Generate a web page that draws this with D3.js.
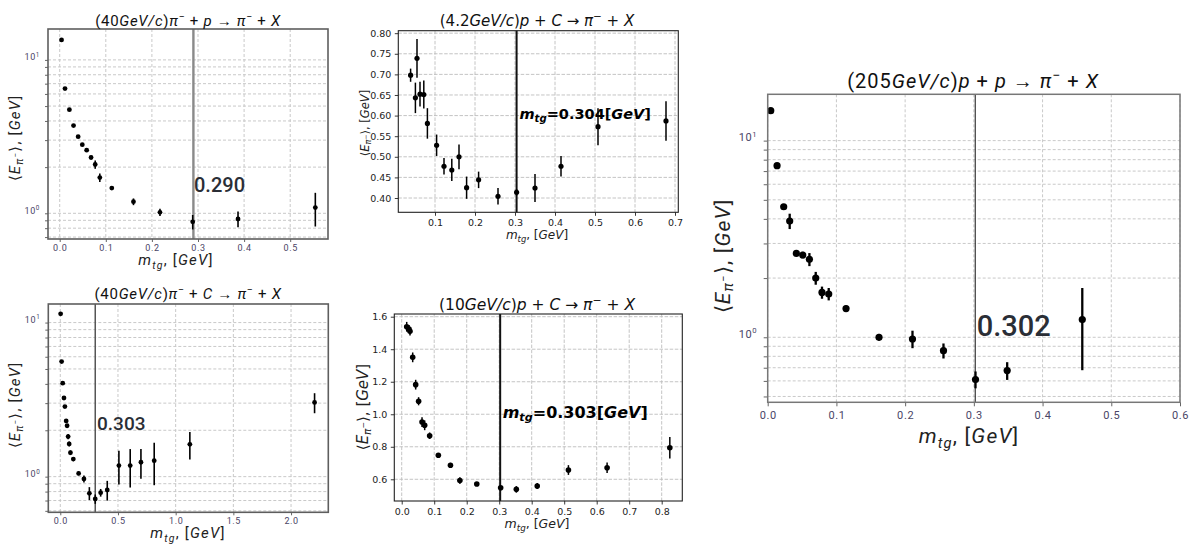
<!DOCTYPE html>
<html>
<head>
<meta charset="utf-8">
<script src="https://cdn.jsdelivr.net/npm/d3@7"></script>
<style>
  body { margin: 0; background: #fff; }
  svg { display: block; }
  text { white-space: pre; }
</style>
</head>
<body>
<svg id="fig" width="1194" height="544"></svg>
<script>
// ---- (40 GeV/c) π⁻ + p → π⁻ + X ----
const mtgPiP40 = [0.004, 0.0115, 0.021, 0.030, 0.040, 0.049, 0.0585, 0.068, 0.077, 0.087, 0.113, 0.160, 0.2175, 0.2885, 0.3868, 0.5545];
const ePiP40   = [13.5, 6.5, 4.74, 3.73, 3.16, 2.80, 2.58, 2.31, 2.08, 1.71, 1.46, 1.19, 1.015, 0.88, 0.918, 1.09];
const errPiP40 = [0.15, 0.08, 0.06, 0.05, 0.05, 0.05, 0.06, 0.06, 0.13, 0.11, 0.04, 0.06, 0.056, 0.095, 0.108, 0.27];

// ---- (4.2 GeV/c) p + C → π⁻ + X ----
const mtgPC42 = [0.039, 0.051, 0.055, 0.0625, 0.072, 0.081, 0.104, 0.1225, 0.142, 0.160, 0.179, 0.209, 0.2575, 0.304, 0.350, 0.415, 0.5075, 0.6775];
const ePC42   = [0.698, 0.643, 0.739, 0.652, 0.651, 0.581, 0.528, 0.477, 0.468, 0.500, 0.425, 0.444, 0.404, 0.414, 0.424, 0.477, 0.573, 0.587];
const errPC42 = [0.016, 0.037, 0.047, 0.030, 0.034, 0.037, 0.026, 0.020, 0.027, 0.030, 0.027, 0.020, 0.020, 0.008, 0.034, 0.025, 0.045, 0.048];

// ---- (40 GeV/c) π⁻ + C → π⁻ + X ----
const mtgPiC40 = [0.003, 0.0115, 0.021, 0.032, 0.040, 0.051, 0.059, 0.068, 0.077, 0.088, 0.113, 0.159, 0.205, 0.252, 0.303, 0.350, 0.407, 0.508, 0.606, 0.699, 0.814, 1.123, 2.204];
const ePiC40   = [11.4, 5.58, 4.04, 3.24, 2.85, 2.30, 2.14, 1.82, 1.63, 1.43, 1.30, 1.05, 0.966, 0.78, 0.716, 0.787, 0.819, 1.18, 1.18, 1.24, 1.27, 1.62, 3.03];
const errPiC40 = [0.15, 0.08, 0.06, 0.05, 0.05, 0.06, 0.06, 0.07, 0.06, 0.05, 0.04, 0.03, 0.05, 0.075, 0.05, 0.045, 0.12, 0.29, 0.33, 0.27, 0.39, 0.33, 0.45];

// ---- (10 GeV/c) p + C → π⁻ + X ----
const mtgPC10 = [0.0154, 0.0225, 0.0255, 0.0338, 0.043, 0.052, 0.0625, 0.0707, 0.086, 0.1127, 0.150, 0.179, 0.231, 0.3045, 0.3527, 0.417, 0.513, 0.632, 0.825];
const ePC10   = [1.538, 1.524, 1.510, 1.350, 1.182, 1.080, 0.952, 0.932, 0.868, 0.748, 0.686, 0.592, 0.571, 0.548, 0.538, 0.559, 0.657, 0.671, 0.794];
const errPC10 = [0.030, 0.025, 0.025, 0.030, 0.030, 0.025, 0.030, 0.030, 0.020, 0.012, 0.015, 0.020, 0.010, 0.010, 0.020, 0.018, 0.030, 0.033, 0.066];

// ---- (205 GeV/c) p + p → π⁻ + X ----
const mtgPP205 = [0.0044, 0.0136, 0.0233, 0.032, 0.0417, 0.051, 0.0607, 0.0699, 0.079, 0.0888, 0.114, 0.162, 0.2107, 0.2558, 0.3024, 0.3485, 0.4578];
const ePP205   = [14.2, 7.46, 4.61, 3.90, 2.67, 2.62, 2.49, 2.00, 1.69, 1.66, 1.40, 1.00, 0.98, 0.855, 0.61, 0.677, 1.23];
const errPP205 = [0.20, 0.10, 0.15, 0.35, 0.08, 0.10, 0.19, 0.15, 0.12, 0.12, 0.05, 0.04, 0.10, 0.075, 0.06, 0.07, 0.55];

// threshold transverse mass for each reaction
const mtgThreshold = [0.290, 0.304, 0.303, 0.303, 0.302];

// tick values
const ticksX1 = [0, 0.1, 0.2, 0.3, 0.4, 0.5];
const ticksX2 = [0.1, 0.2, 0.3, 0.4, 0.5, 0.6, 0.7];
const ticksY2 = [0.40, 0.45, 0.50, 0.55, 0.60, 0.65, 0.70, 0.75, 0.80];
const ticksX3 = [0, 0.5, 1.0, 1.5, 2.0];
const ticksX4 = [0, 0.1, 0.2, 0.3, 0.4, 0.5, 0.6, 0.7, 0.8];
const ticksY4 = [0.6, 0.8, 1.0, 1.2, 1.4, 1.6];
const ticksX5 = [0, 0.1, 0.2, 0.3, 0.4, 0.5, 0.6];

const svg = d3.select('#fig');

// Rich text with italic / sub / superscript pieces
function rich(text, parts, fs) {
  let off = 0;
  parts.forEach(([str, kind]) => {
    const k = (kind || '').split(' ');
    let target = 0, size = fs;
    if (k.includes('sup')) { target = -0.40 * fs; size = 0.7 * fs; }
    if (k.includes('sub')) { target = 0.24 * fs; size = 0.7 * fs; }
    if (k.includes('ssup')) { target = -0.02 * fs; size = 0.52 * fs; }
    const t = text.append('tspan').text(str).attr('dy', (target - off).toFixed(2));
    off = target;
    if (size !== fs) t.attr('font-size', size);
    if (k.includes('i')) t.attr('font-style', 'italic');
    if (k.includes('b')) t.attr('font-weight', 'bold');
  });
}

const ELabel = [['⟨', ''], ['E', 'i'], ['π', 'i sub'], ['−', 'ssup'], ['⟩, [', ''], ['GeV', 'i'], [']', '']];
const MLabel = [['m', 'i'], ['tg', 'i sub'], [', [', ''], ['GeV', 'i'], [']', '']];

function logTicks(dom) {
  const out = [];
  const e0 = Math.floor(Math.log10(dom[0])), e1 = Math.ceil(Math.log10(dom[1]));
  for (let e = e0; e <= e1; e++)
    for (let k = 1; k <= 9; k++) {
      const v = k * Math.pow(10, e);
      if (v >= dom[0] && v <= dom[1]) out.push(+v.toPrecision(3));
    }
  return out;
}

function drawPanel(c) {
  const g = svg.append('g');
  const x = d3.scaleLinear().domain(c.xDomain).range([c.left, c.right]);
  const y = (c.log ? d3.scaleLog() : d3.scaleLinear()).domain(c.yDomain).range([c.bottom, c.top]);
  const yGrid = c.log ? logTicks(c.yDomain) : c.yTicks;

  // grid
  const grid = g.append('g');
  grid.selectAll('line.gy').data(yGrid).join('line')
    .attr('x1', c.left).attr('x2', c.right)
    .attr('y1', d => y(d)).attr('y2', d => y(d))
    .attr('stroke', c.gridColor).attr('stroke-width', c.gridWidth).attr('stroke-dasharray', c.gridDash);
  grid.selectAll('line.gx').data(c.xTicks).join('line')
    .attr('y1', c.top).attr('y2', c.bottom)
    .attr('x1', d => x(d)).attr('x2', d => x(d))
    .attr('stroke', c.gridColor).attr('stroke-width', c.gridWidth).attr('stroke-dasharray', c.gridDash);

  // axes
  const xa = g.append('g').attr('transform', `translate(0,${c.bottom})`)
    .call(d3.axisBottom(x).tickValues(c.xTicks).tickFormat(d3.format(c.xFmt))
      .tickSize(c.tickLen).tickPadding(c.xPad).tickSizeOuter(0));
  const ya = g.append('g').attr('transform', `translate(${c.left},0)`)
    .call(d3.axisLeft(y).tickValues(yGrid)
      .tickFormat(c.log ? () => '' : d3.format(c.yFmt))
      .tickSize(c.tickLen).tickPadding(c.yPad).tickSizeOuter(0));
  [xa, ya].forEach(a => {
    a.select('.domain').remove();
    a.selectAll('.tick line').attr('stroke', c.tickColor).attr('stroke-width', 0.9);
    a.selectAll('.tick text').attr('fill', c.tickTextColor)
      .attr('font-family', c.font).attr('font-size', c.tickFs)
      .attr('letter-spacing', c.tickSpacing || 0);
  });
  if (c.log) {
    ya.selectAll('.tick').filter(d => d === 1 || d === 10).each(function (d) {
      const t = d3.select(this).select('text').text(null);
      rich(t, [['10', ''], [String(Math.round(Math.log10(d))), 'sup']], c.tickFs);
    });
  }

  // threshold line
  g.append('line')
    .attr('x1', x(c.threshold)).attr('x2', x(c.threshold))
    .attr('y1', c.top).attr('y2', c.bottom)
    .attr('stroke', c.vColor).attr('stroke-width', c.vWidth);

  // error bars and points
  const pts = c.mtg.map((m, i) => ({ m, e: c.e[i], s: c.err[i] }));
  g.append('g').selectAll('line').data(pts).join('line')
    .attr('x1', d => x(d.m)).attr('x2', d => x(d.m))
    .attr('y1', d => y(d.e - d.s)).attr('y2', d => y(d.e + d.s))
    .attr('stroke', '#000').attr('stroke-width', c.errWidth);
  g.append('g').selectAll('circle').data(pts).join('circle')
    .attr('cx', d => x(d.m)).attr('cy', d => y(d.e)).attr('r', c.r).attr('fill', '#000');

  // frame
  g.append('rect').attr('x', c.left).attr('y', c.top)
    .attr('width', c.right - c.left).attr('height', c.bottom - c.top)
    .attr('fill', 'none').attr('stroke', c.frameColor).attr('stroke-width', c.frameWidth);

  // title and axis labels
  const title = g.append('text').attr('x', c.title[0]).attr('y', c.title[1])
    .attr('text-anchor', 'middle').attr('font-family', c.font).attr('font-size', c.titleFs)
    .attr('letter-spacing', c.titleSpacing || 0).attr('fill', '#111');
  rich(title, c.titleParts, c.titleFs);

  const xl = g.append('text').attr('x', c.xlabel[0]).attr('y', c.xlabel[1])
    .attr('text-anchor', 'middle').attr('font-family', c.font).attr('font-size', c.labelFs)
    .attr('letter-spacing', c.labelSpacing || 0).attr('fill', c.labelColor);
  rich(xl, MLabel, c.labelFs);

  const yl = g.append('text')
    .attr('transform', `translate(${c.ylabel[0]},${c.ylabel[1]}) rotate(-90)`)
    .attr('text-anchor', 'middle').attr('dominant-baseline', 'central')
    .attr('font-family', c.font).attr('font-size', c.yLabelFs)
    .attr('letter-spacing', c.labelSpacing || 0).attr('fill', c.labelColor);
  rich(yl, ELabel, c.yLabelFs);

  // value annotation
  const ann = g.append('text').attr('x', c.ann[0]).attr('y', c.ann[1])
    .attr('font-family', c.annFont).attr('font-size', c.annFs)
    .attr('font-weight', c.annWeight).attr('fill', c.annColor);
  if (c.annParts) rich(ann, c.annParts, c.annFs);
  else ann.text(d3.format('.3f')(c.threshold));
}

// styles shared by the log-scale panels
const logStyle = {
  log: true, font: 'Roboto', tickFs: 9, tickColor: '#555', tickTextColor: '#4a4566',
  gridColor: '#c9c9c9', gridWidth: 1, gridDash: '3,2',
  frameColor: '#5e5e5e', frameWidth: 1.6, labelColor: '#222',
  titleSpacing: 0.7, labelSpacing: 1.2, tickSpacing: 0.6,
  annFont: 'Roboto', annWeight: 500, annColor: '#2a2e36', xFmt: '.1f'
};
// styles shared by the linear-scale panels
const linStyle = {
  log: false, font: 'DejaVu Sans', tickFs: 9.5, tickColor: '#222', tickTextColor: '#222',
  gridColor: '#bdbdbd', gridWidth: 0.9, gridDash: '3.5,1.6', tickLen: 3.5, xPad: 3.5, yPad: 3.5,
  frameColor: '#222', frameWidth: 1.1, labelColor: '#222',
  annFont: 'DejaVu Sans', annWeight: 'bold', annColor: '#000', vColor: '#111', vWidth: 2,
  errWidth: 1.5
};

const arrow = ' → ';

drawPanel(Object.assign({}, logStyle, {
  left: 48, right: 328, top: 29, bottom: 239,
  xDomain: [-0.0254, 0.582], yDomain: [0.68, 15.9],
  xTicks: ticksX1, tickLen: 3, xPad: 2.5, yPad: 5,
  mtg: mtgPiP40, e: ePiP40, err: errPiP40, r: 2.4, errWidth: 1.6,
  threshold: mtgThreshold[0], vColor: '#8a8a8a', vWidth: 2.4,
  title: [188, 26], titleFs: 15,
  titleParts: [['(40', ''], ['GeV/c', 'i'], [')', ''], ['π', 'i'], ['−', 'sup'], [' + ', ''], ['p', 'i'], [arrow, ''], ['π', 'i'], ['−', 'sup'], [' + ', ''], ['X', 'i']],
  xlabel: [176, 265], ylabel: [15, 138], labelFs: 15, yLabelFs: 15,
  ann: [194, 192], annFs: 20
}));

drawPanel(Object.assign({}, linStyle, {
  left: 398.3, right: 678.3, top: 30.7, bottom: 212.3,
  xDomain: [0.00825, 0.70825], yDomain: [0.3653, 0.806],
  xTicks: ticksX2, yTicks: ticksY2, xFmt: '.1f', yFmt: '.2f',
  mtg: mtgPC42, e: ePC42, err: errPC42, r: 2.6,
  threshold: mtgThreshold[1],
  title: [537, 26], titleFs: 15,
  titleParts: [['(4.2', ''], ['GeV/c', 'i'], [')', ''], ['p', 'i'], [' + ', ''], ['C', 'i'], [arrow, ''], ['π', 'i'], ['−', 'sup'], [' + ', ''], ['X', 'i']],
  xlabel: [537, 239], ylabel: [365, 123], labelFs: 12, yLabelFs: 11.5,
  ann: [519.5, 119], annFs: 14.5,
  annParts: [['m', 'i'], ['tg', 'i sub'], ['=0.304[', ''], ['GeV', 'i'], [']', '']]
}));

drawPanel(Object.assign({}, logStyle, {
  left: 48.3, right: 328.3, top: 304, bottom: 512.3,
  xDomain: [-0.1039, 2.323], yDomain: [0.587, 13.2],
  xTicks: ticksX3, tickLen: 3, xPad: 2.5, yPad: 5,
  mtg: mtgPiC40, e: ePiC40, err: errPiC40, r: 2.4, errWidth: 1.6,
  threshold: mtgThreshold[2], vColor: '#555', vWidth: 1.5,
  title: [188, 299], titleFs: 15,
  titleParts: [['(40', ''], ['GeV/c', 'i'], [')', ''], ['π', 'i'], ['−', 'sup'], [' + ', ''], ['C', 'i'], [arrow, ''], ['π', 'i'], ['−', 'sup'], [' + ', ''], ['X', 'i']],
  xlabel: [188, 538], ylabel: [15, 405], labelFs: 15, yLabelFs: 15,
  ann: [97, 430], annFs: 19
}));

drawPanel(Object.assign({}, linStyle, {
  left: 394.3, right: 682.3, top: 314, bottom: 501,
  xDomain: [-0.0228, 0.8634], yDomain: [0.4665, 1.6166],
  xTicks: ticksX4, yTicks: ticksY4, xFmt: '.1f', yFmt: '.1f',
  mtg: mtgPC10, e: ePC10, err: errPC10, r: 2.8,
  threshold: mtgThreshold[3],
  title: [537, 310], titleFs: 15.5,
  titleParts: [['(10', ''], ['GeV/c', 'i'], [')', ''], ['p', 'i'], [' + ', ''], ['C', 'i'], [arrow, ''], ['π', 'i'], ['−', 'sup'], [' + ', ''], ['X', 'i']],
  xlabel: [537, 528], ylabel: [363, 407], labelFs: 12.5, yLabelFs: 15,
  ann: [502.7, 417.5], annFs: 16,
  annParts: [['m', 'i'], ['tg', 'i sub'], ['=0.303[', ''], ['GeV', 'i'], [']', '']]
}));

drawPanel(Object.assign({}, logStyle, {
  left: 767.7, right: 1180, top: 94.3, bottom: 402.3,
  xDomain: [0, 0.6], yDomain: [0.467, 17.2],
  xTicks: ticksX5, tickLen: 4, xPad: 5, yPad: 6.5, tickFs: 11,
  mtg: mtgPP205, e: ePP205, err: errPP205, r: 3.6, errWidth: 2.3,
  threshold: mtgThreshold[4], vColor: '#111', vWidth: 1,
  frameColor: '#777', frameWidth: 1.5, titleSpacing: 1,
  title: [973, 88], titleFs: 20,
  titleParts: [['(205', ''], ['GeV/c', 'i'], [')', ''], ['p', 'i'], [' + ', ''], ['p', 'i'], [arrow, ''], ['π', 'i'], ['−', 'sup'], [' + ', ''], ['X', 'i']],
  xlabel: [969, 443], ylabel: [723, 256], labelFs: 21, yLabelFs: 21,
  ann: [976.7, 336], annFs: 29
}));
</script>
</body>
</html>
